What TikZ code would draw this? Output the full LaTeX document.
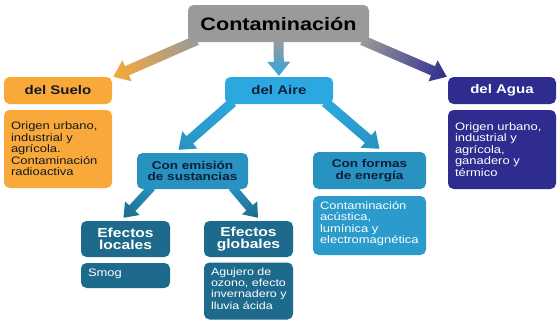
\documentclass[tikz,border=0pt]{standalone}
\usepackage{fontspec}
\setmainfont[FakeStretch=1.2]{Liberation Sans}
\usetikzlibrary{calc}
\pgfdeclarelayer{background}
\pgfsetlayers{background,main}
\definecolor{cgray}{HTML}{9A9A9A}
\definecolor{corange}{HTML}{F8A93A}
\definecolor{caire}{HTML}{2CA8E0}
\definecolor{cagua}{HTML}{2E2D8F}
\definecolor{cemis}{HTML}{2892C0}
\definecolor{cformasd}{HTML}{2A9BCB}
\definecolor{cefec}{HTML}{1E6A8C}
\definecolor{cdark}{HTML}{141A24}
\definecolor{cnavy}{HTML}{0E1E38}
\newcommand\fCont{\fontsize{18}{20}\selectfont\bfseries}
\newcommand\fMain{\fontsize{12.5}{14}\selectfont\bfseries}
\newcommand\fSub{\fontsize{11.3}{11.7}\selectfont\bfseries}
\newcommand\fEf{\fontsize{13}{12}\selectfont\bfseries}
\newcommand\fDesc{\fontsize{10.8}{11.5}\selectfont}
\newcommand\fDescS{\fontsize{10.4}{11.2}\selectfont}
\newcommand\oneline[1]{\mbox{#1}}
\newcommand{\gradarrow}[7]{%
  \pgfpointdiff{\pgfpointanchor{#1}{center}}{\pgfpointanchor{#2}{center}}%
  \pgfgetlastxy{\gaDx}{\gaDy}%
  \pgfmathsetmacro{\gaAng}{atan2(\gaDy,\gaDx)}%
  \pgfmathsetmacro{\gaLen}{veclen(\gaDx,\gaDy)}%
  \pgfmathsetmacro{\gaBase}{\gaLen-#7}%
  \begin{scope}[transform canvas={shift={(#1)},rotate=\gaAng}]
    \shade[left color=#3,right color=#4]
      (0pt,-#5pt) -- (\gaBase pt,-#5pt) -- (\gaBase pt,-#6pt) -- (\gaLen pt,0pt)
      -- (\gaBase pt,#6pt) -- (\gaBase pt,#5pt) -- (0pt,#5pt) -- cycle;
  \end{scope}}
\begin{document}
\begin{tikzpicture}[x=1pt,y=-1pt,
  box/.style={rectangle, rounded corners=5.5pt, inner sep=0pt, align=center},
  headbox/.style={box, font=\fMain, minimum width=108pt, minimum height=27pt},
  subbox/.style={box, font=\fSub, text=cnavy, fill=cemis},
  efbox/.style={box, font=\fEf, text=white, fill=cefec, minimum width=89pt, minimum height=36pt},
  descbox/.style={box, font=\fDesc, align=left, inner xsep=7pt}]
\useasboundingbox (0,0) rectangle (560,324);
% nodes
\node[box, fill=cgray, font=\fCont, text=black, minimum width=181pt, minimum height=37pt] (cont) at (278.5,23.5) {Contaminación};
\node[headbox, fill=corange, text=cdark] (suelo) at (58,90.5) {del Suelo};
\node[headbox, fill=caire, text=cnavy] (aire) at (279,90.5) {del Aire};
\node[headbox, fill=cagua, text=white] (agua) at (502,90.5) {del Agua};
\node[descbox, fill=corange, text=cdark, minimum width=108pt, minimum height=78pt, text width=94pt] (sueloD) at (58,149) {Origen urbano,\\industrial y\\agrícola.\\Contaminación\\radioactiva};
\node[descbox, fill=cagua, text=white, minimum width=108pt, minimum height=79pt, text width=94pt] (aguaD) at (502,149.5) {Origen urbano,\\industrial y\\agrícola,\\ganadero y\\térmico};
\node[subbox, minimum width=111pt, minimum height=36pt] (emis) at (192.5,171) {Con emisión\\de sustancias};
\node[subbox, minimum width=113pt, minimum height=37pt] (formas) at (369.5,170.5) {Con formas\\de energía};
\node[descbox, fill=cformasd, text=white, minimum width=113pt, minimum height=59pt, text width=99pt] (formasD) at (369.5,225.5) {Contaminación\\acústica,\\lumínica y\\\oneline{electromagnética}\par\vspace{4pt}};
\node[efbox] (locales) at (125.5,239) {Efectos\\locales};
\node[efbox] (globales) at (248.5,239) {Efectos\\globales};
\node[descbox, fill=cefec, text=white, minimum width=89pt, minimum height=25pt, text width=75pt] (smog) at (125.5,275.5) {Smog\par\vspace{4pt}};
\node[descbox, font=\fDescS, fill=cefec, text=white, minimum width=89pt, minimum height=57pt, text width=75pt] (globalesD) at (248.5,291) {\oneline{Agujero de}\\\oneline{ozono, efecto}\\\oneline{invernadero y}\\\oneline{lluvia ácida}\par\vspace{5pt}};
% connector end points
\coordinate (a1s) at ($(cont.south west)+(9,-2)$);
\coordinate (a1e) at ($(suelo.north east)+(1,0)$);
\coordinate (a2s) at ($(cont.south)+(0,-2)$);
\coordinate (a2e) at ($(aire.north)+(0,-1)$);
\coordinate (a3s) at ($(cont.south east)+(-7,-2)$);
\coordinate (a3e) at ($(agua.north west)+(-1,0)$);
\coordinate (a4s) at ($(aire.south west)+(8,-2)$);
\coordinate (a4e) at ($(emis.north)+(-14,-3)$);
\coordinate (a5s) at ($(aire.south east)+(-8,-2)$);
\coordinate (a5e) at ($(formas.north)+(10,-3)$);
\coordinate (a6s) at ($(emis.south west)+(15,-2)$);
\coordinate (a6e) at ($(locales.north)+(-2,-3)$);
\coordinate (a7s) at ($(emis.south east)+(-16,-2)$);
\coordinate (a7e) at ($(globales.north)+(9.5,-3)$);
\begin{pgfonlayer}{background}
\fill[white] (0,0) rectangle (560,324);
\gradarrow{a1s}{a1e}{cgray}{corange}{5}{11.5}{15}
\gradarrow{a2s}{a2e}{cgray}{caire}{5}{11.5}{14}
\gradarrow{a3s}{a3e}{cgray}{cagua}{5}{11.5}{15}
\gradarrow{a4s}{a4e}{caire}{cemis}{5}{11.5}{15}
\gradarrow{a5s}{a5e}{caire}{cemis}{5}{11.5}{15}
\gradarrow{a6s}{a6e}{cemis}{cefec}{4.2}{10}{13}
\gradarrow{a7s}{a7e}{cemis}{cefec}{4.2}{10}{13}
\end{pgfonlayer}
\end{tikzpicture}
\end{document}
